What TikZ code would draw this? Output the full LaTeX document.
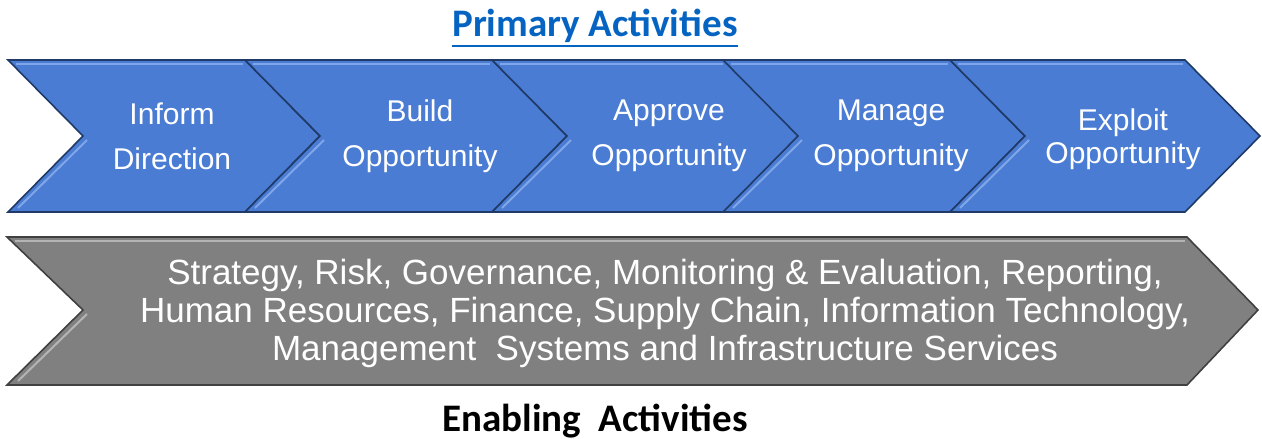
\documentclass[tikz,border=0pt]{standalone}
\usepackage{fontspec}
\setmainfont{Liberation Sans}
\newfontfamily\headfont{Carlito}
\definecolor{chevBlue}{HTML}{4A7CD4}
\definecolor{chevEdge}{HTML}{1F3A66}
\definecolor{chevLight}{HTML}{7FA6E8}
\definecolor{barGray}{HTML}{808080}
\definecolor{barEdge}{HTML}{404040}
\definecolor{barLight}{HTML}{B4B4B4}
\definecolor{linkBlue}{HTML}{0563C1}
\newcommand{\thickUl}[1]{\leavevmode\vtop{\hbox{#1}\kern2pt\hrule height 2.4pt}}
\newcommand{\drawChevron}[6]{
    \filldraw[chev] (#1,60) -- (#2-75,60) -- (#2,136) -- (#2-75,212)
        -- (#1,212) -- (#1+75,136) -- cycle;
    \draw[bevel] (#1+79,140) -- (#1+10,208);
    \draw[bevel] (#1+8,64) -- (#2-77,64);
    \node[chevtext,#5] (#4) at (#3,136) {#6};
}

\begin{document}
\begin{tikzpicture}[x=1pt,y=-1pt,
    chev/.style={fill=chevBlue,draw=chevEdge,line width=1.6pt,line join=miter},
    bevel/.style={draw=chevLight,line width=2pt},
    chevtext/.style={text=white,align=center,font=\fontsize{30}{45}\selectfont},
    tight/.style={font=\fontsize{30}{33}\selectfont,yshift=-3pt},
    heading/.style={font=\headfont\bfseries\fontsize{39}{40}\selectfont}]
\useasboundingbox (0,0) rectangle (1262,439);

% Primary activities
\node[heading,text=linkBlue] (primary) at (595,28) {\thickUl{Primary Activities}};

\drawChevron{8}{320}{172}{inform}{}{Inform\\Direction}
\drawChevron{245}{567}{420}{build}{}{Build\\Opportunity}
\drawChevron{492}{800}{669}{approve}{}{Approve\\Opportunity}
\drawChevron{723}{1025}{891}{manage}{}{Manage\\Opportunity}
\drawChevron{950}{1260}{1123}{exploit}{tight}{Exploit\\Opportunity}

% Enabling activities
\filldraw[fill=barGray,draw=barEdge,line width=1.6pt] (7,237) -- (1187,237) -- (1258,310)
    -- (1187,385) -- (7,385) -- (83,310) -- cycle;
\draw[barLight,line width=2pt] (87,314) -- (18,381);
\draw[barLight,line width=2pt] (15,241) -- (1185,241);
\node[text=white,align=center,font=\fontsize{35}{38}\selectfont] (support) at (665,313)
    {Strategy, Risk, Governance, Monitoring \& Evaluation, Reporting,\\
     Human Resources, Finance, Supply Chain, Information Technology,\\
     Management\ \ Systems and Infrastructure Services};

\node[heading] (enabling) at (595,421) {Enabling\ \ Activities};

\end{tikzpicture}
\end{document}
